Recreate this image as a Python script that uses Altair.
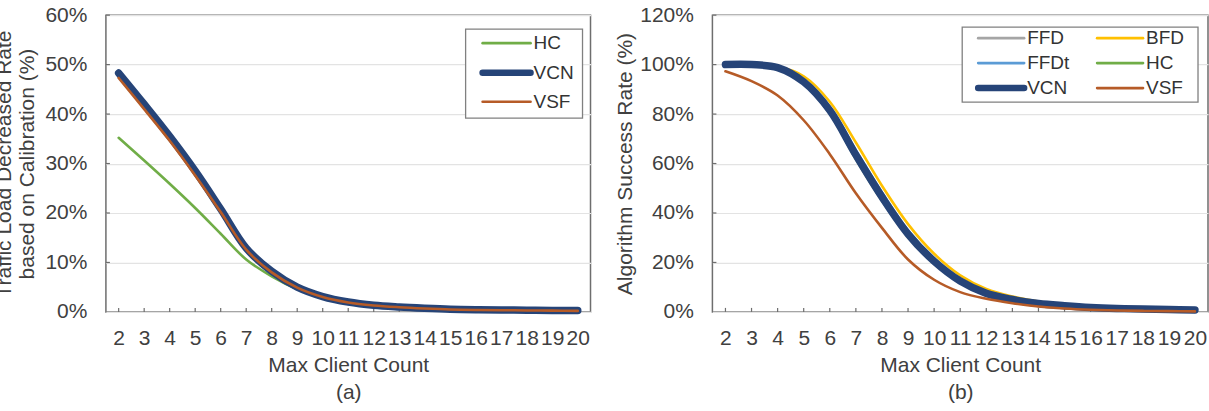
import altair as alt
import pandas as pd

CLIENTS = list(range(2, 21))

# (a) traffic load decreased rate based on calibration, in %
A_HC = [35.2, 30.6, 25.9, 21.0, 15.8, 10.6, 7.2, 4.6, 2.8, 1.8, 1.1, 0.8, 0.55, 0.4, 0.3, 0.25, 0.2, 0.2, 0.15]
A_VCN = [48.3, 42.0, 35.5, 28.5, 20.8, 12.9, 8.2, 5.0, 3.1, 2.0, 1.35, 1.0, 0.75, 0.55, 0.45, 0.4, 0.35, 0.3, 0.3]
A_VSF = [47.3, 41.0, 34.6, 27.6, 20.2, 12.6, 8.0, 4.9, 3.0, 1.9, 1.3, 0.95, 0.7, 0.5, 0.4, 0.35, 0.3, 0.25, 0.2]

# (b) algorithm success rate, in %
B_FFD = [100, 100, 99.0, 93.5, 82.3, 64.6, 47.6, 32.4, 21.1, 13.0, 7.9, 5.2, 3.5, 2.5, 1.9, 1.5, 1.2, 1.0, 0.8]
B_BFD = [100, 100, 99.2, 95.3, 85.0, 68.5, 51.0, 35.5, 23.5, 14.8, 9.3, 6.2, 4.2, 3.0, 2.2, 1.7, 1.3, 1.1, 0.9]
B_FFDT = [100, 100, 99.0, 93.8, 82.8, 65.3, 48.3, 33.0, 21.6, 13.3, 8.1, 5.4, 3.6, 2.6, 1.9, 1.5, 1.2, 1.0, 0.8]
B_HC = [100, 100, 98.6, 92.4, 80.2, 61.8, 45.0, 30.3, 19.6, 11.9, 7.1, 4.7, 3.2, 2.3, 1.7, 1.3, 1.1, 0.9, 0.7]
B_VCN = [100, 100, 98.8, 93.0, 81.5, 63.5, 46.5, 31.5, 20.5, 12.5, 7.5, 5.0, 3.4, 2.5, 1.8, 1.4, 1.2, 1.0, 0.8]
B_VSF = [97.3, 93.3, 87.5, 77.5, 63.8, 48.0, 34.0, 21.2, 13.0, 8.0, 5.3, 3.5, 2.2, 1.4, 0.9, 0.6, 0.4, 0.3, 0.2]

COLORS = {
    "FFD": "#a5a5a5",
    "BFD": "#ffc000",
    "FFDt": "#5b9bd5",
    "HC": "#70ad47",
    "VCN": "#264478",
    "VSF": "#b65b27",
}
WIDTHS = {"VCN": 7.5}
THIN = 2.6

FONT = "Liberation Sans"
TEXT = "#404040"
FS = 21
H = 297


def line_layers(series, x_enc, y_enc):
    layers = []
    for name, values in series:
        df = pd.DataFrame({"x": CLIENTS, "v": values})
        layers.append(
            alt.Chart(df)
            .mark_line(
                color=COLORS[name],
                strokeWidth=WIDTHS.get(name, THIN),
                interpolate="catmull-rom",
                strokeCap="round",
                strokeJoin="round",
            )
            .encode(x=x_enc, y=y_enc)
        )
    return layers


def tick_layers(x_enc, y_enc, y_values):
    xt = (
        alt.Chart(pd.DataFrame({"x": CLIENTS}))
        .mark_rule(color="#6e6e6e", strokeWidth=1.2)
        .encode(x=x_enc, y=alt.value(H), y2=alt.value(H - 4))
    )
    yt = (
        alt.Chart(pd.DataFrame({"v": y_values}))
        .mark_rule(color="#6e6e6e", strokeWidth=1.2)
        .encode(y=y_enc, x=alt.value(0), x2=alt.value(4))
    )
    return [xt, yt]


def legend_layers(frame, entries, sym_len, text_gap):
    """frame = (x0, x1, y0, y1); entries = list of (name, sx, sy)."""
    x0, x1, y0, y1 = frame
    one = pd.DataFrame({"k": [0]})
    layers = [
        alt.Chart(one)
        .mark_rect(fill="white", stroke="#808080", strokeWidth=1.3)
        .encode(x=alt.value(x0), x2=alt.value(x1), y=alt.value(y0), y2=alt.value(y1))
    ]
    for name, sx, sy in entries:
        layers.append(
            alt.Chart(one)
            .mark_rule(
                color=COLORS[name],
                strokeWidth=WIDTHS.get(name, THIN) - (1 if name in WIDTHS else 0),
                strokeCap="round",
            )
            .encode(x=alt.value(sx), x2=alt.value(sx + sym_len), y=alt.value(sy))
        )
        layers.append(
            alt.Chart(one)
            .mark_text(align="left", baseline="middle", font=FONT, fontSize=19, color="#333333")
            .encode(x=alt.value(sx + sym_len + text_gap), y=alt.value(sy), text=alt.value(name))
        )
    return layers


def x_encoding(tag):
    return alt.X(
        "x:Q",
        scale=alt.Scale(domain=[1.5, 20.5], nice=False, zero=False),
        axis=alt.Axis(
            values=CLIENTS,
            format="d",
            grid=False,
            ticks=False,
            domain=False,
            labelPadding=16,
            labelFlush=False,
            title=["Max Client Count", tag],
            titlePadding=6,
            titleLineHeight=27,
        ),
    )


def y_encoding(ymax, step, title, title_pad, line_height):
    return alt.Y(
        "v:Q",
        scale=alt.Scale(domain=[0, ymax], nice=False),
        axis=alt.Axis(
            values=list(range(0, ymax + 1, step)),
            labelExpr="datum.value + '%'",
            grid=True,
            gridColor="#e3e3e3",
            gridWidth=1.2,
            ticks=False,
            domain=False,
            labelPadding=19,
            title=title,
            titlePadding=title_pad,
            titleLineHeight=line_height,
        ),
    )


# panel (a)
xa = x_encoding("(a)")
ya = y_encoding(60, 10, ["Traffic Load Decreased Rate", "based on Calibration (%)"], 7, 23)
left_layers = (
    tick_layers(xa, ya, list(range(10, 61, 10)))
    + line_layers([("HC", A_HC), ("VCN", A_VCN), ("VSF", A_VSF)], xa, ya)
    + legend_layers(
        (360, 477, 14, 103),
        [("HC", 377, 28), ("VCN", 377, 57.7), ("VSF", 377, 86.7)],
        48,
        3,
    )
)
left = alt.layer(*left_layers).properties(width=485, height=H)

# panel (b)
xb = x_encoding("(b)")
yb = y_encoding(120, 20, "Algorithm Success Rate (%)", 4, 23)
right_layers = (
    tick_layers(xb, yb, list(range(20, 121, 20)))
    + line_layers(
        [
            ("FFD", B_FFD),
            ("BFD", B_BFD),
            ("FFDt", B_FFDT),
            ("HC", B_HC),
            ("VCN", B_VCN),
            ("VSF", B_VSF),
        ],
        xb,
        yb,
    )
    + legend_layers(
        (250, 486, 12, 87),
        [
            ("FFD", 266, 23),
            ("BFD", 385, 23),
            ("FFDt", 266, 48),
            ("HC", 385, 48),
            ("VCN", 266, 73),
            ("VSF", 385, 73),
        ],
        46,
        3,
    )
)
right = alt.layer(*right_layers).properties(width=496, height=H)

chart = (
    alt.hconcat(left, right, spacing=22)
    .properties(padding={"left": -7, "top": 3, "right": 0, "bottom": 0}, background="white")
    .configure_view(stroke="#6e6e6e", strokeWidth=1.5)
    .configure_axis(
        labelFont=FONT,
        titleFont=FONT,
        labelFontSize=FS,
        titleFontSize=FS,
        labelColor=TEXT,
        titleColor=TEXT,
        titleFontWeight="normal",
    )
)

chart.save("out.html", embed_options={"renderer": "svg", "actions": False})
